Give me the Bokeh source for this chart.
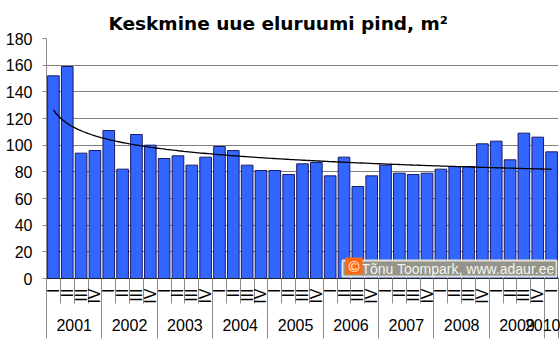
import math
import numpy as np
from bokeh.plotting import figure
from bokeh.models import Range1d, LinearAxis, FixedTicker, Label, ColumnDataSource
from bokeh.embed import file_html
from bokeh.resources import INLINE

title_text = "Keskmine uue eluruumi pind, m²"
years = ["2001", "2002", "2003", "2004", "2005", "2006", "2007", "2008", "2009", "2010"]
quarters = ["I", "II", "III", "IV"]
values = [152, 159, 94, 96, 111, 82, 108, 100, 90, 92, 85, 91,
          99, 96, 85, 81, 81, 78, 86, 87, 77, 91, 69, 77,
          85, 79, 78, 79, 82, 84, 84, 101, 103, 89, 109, 106, 95]
y_ticks = [0, 20, 40, 60, 80, 100, 120, 140, 160, 180]
watermark = "Tõnu Toompark, www.adaur.ee"

n = len(values)
per_year = [years[i // 4] for i in range(n)]
per_q = [quarters[i % 4] for i in range(n)]
xc = [i + 0.5 for i in range(n)]

src = ColumnDataSource(dict(x=xc, top=values, year=per_year, q=per_q))

p = figure(width=560, height=342, x_range=Range1d(0, n), y_range=Range1d(0, 180),
           output_backend="svg", toolbar_location=None, x_axis_type=None,
           min_border_left=46, min_border_right=2, min_border_top=38, min_border_bottom=64)
p.outline_line_color = None
p.background_fill_color = "white"
p.border_fill_color = "white"

p.title.text = title_text
p.title.text_font = "DejaVu Sans"
p.title.text_font_style = "bold"
p.title.text_font_size = "18.5px"
p.title.align = "left"
p.title.offset = 62
p.title.text_color = "black"

# y axis
p.yaxis.ticker = FixedTicker(ticks=y_ticks)
p.yaxis.major_tick_out = 4
p.yaxis.major_tick_in = 0
p.yaxis.minor_tick_line_color = None
p.yaxis.axis_line_color = "#8c8c8c"
p.yaxis.major_tick_line_color = "#8c8c8c"
p.yaxis.major_label_text_font = "Liberation Sans"
p.yaxis.major_label_text_font_size = "16px"
p.yaxis.major_label_text_color = "black"
p.yaxis.major_label_standoff = 10
p.ygrid.ticker = FixedTicker(ticks=y_ticks)
p.ygrid.grid_line_color = "#808080"
p.xgrid.visible = False

# bars
p.vbar(x="x", top="top", width=0.84, bottom=0, source=src,
       fill_color="#3366FF", line_color="#1a1a66", line_width=1)

# power trend line fitted to the data
xi = np.arange(1, n + 1)
b, ln_a = np.polyfit(np.log(xi), np.log(np.array(values, dtype=float)), 1)
xs = np.linspace(1, n, 200)
p.line(xs - 0.5, np.exp(ln_a) * xs ** b, line_color="black", line_width=1.3)

# quarter axis
year_bounds = [i for i in range(n) if i % 4 == 0] + [n]
q_axis = LinearAxis(
    ticker=FixedTicker(ticks=xc, minor_ticks=list(range(n + 1))),
    major_label_overrides={float(x): q for x, q in zip(xc, per_q)},
    major_label_orientation=math.pi / 2,
    major_tick_line_color=None, major_tick_out=0, major_tick_in=0,
    minor_tick_out=25, minor_tick_in=0, minor_tick_line_color="#8c8c8c",
    axis_line_color="#202020", major_label_standoff=-15,
    major_label_text_font="Liberation Sans", major_label_text_font_size="16px",
    major_label_text_color="black")
p.add_layout(q_axis, "below")

# year axis
year_centers = []
for y in years:
    idx = [i for i in range(n) if per_year[i] == y]
    year_centers.append((xc[idx[0]] + xc[idx[-1]]) / 2)
y_axis2 = LinearAxis(
    ticker=FixedTicker(ticks=year_centers, minor_ticks=year_bounds),
    major_label_overrides={float(c): y for c, y in zip(year_centers, years)},
    major_tick_line_color=None, major_tick_out=0, major_tick_in=0,
    minor_tick_in=25, minor_tick_out=32, minor_tick_line_color="#8c8c8c",
    axis_line_color=None, major_label_standoff=-20,
    major_label_text_font="Liberation Sans", major_label_text_font_size="16px",
    major_label_text_color="black")
p.add_layout(y_axis2, "below")

# watermark
p.add_layout(Label(x=296, y=2, x_units="screen", y_units="screen", text=watermark,
                   text_color="#f4f4ee", text_font="Liberation Sans", text_font_size="14px",
                   background_fill_color="#94948a",
                   border_line_color="#e0e0da", border_line_width=2,
                   padding=dict(left=19, right=2, top=0, bottom=0)))
p.add_layout(Label(x=299, y=4, x_units="screen", y_units="screen", text="©",
                   text_color="white", text_font="Liberation Sans", text_font_size="15px",
                   text_line_height=0.8,
                   background_fill_color="#ff6a10", padding=dict(left=3, right=3, top=0, bottom=0)))

open("out.html", "w").write(file_html(p, INLINE))
